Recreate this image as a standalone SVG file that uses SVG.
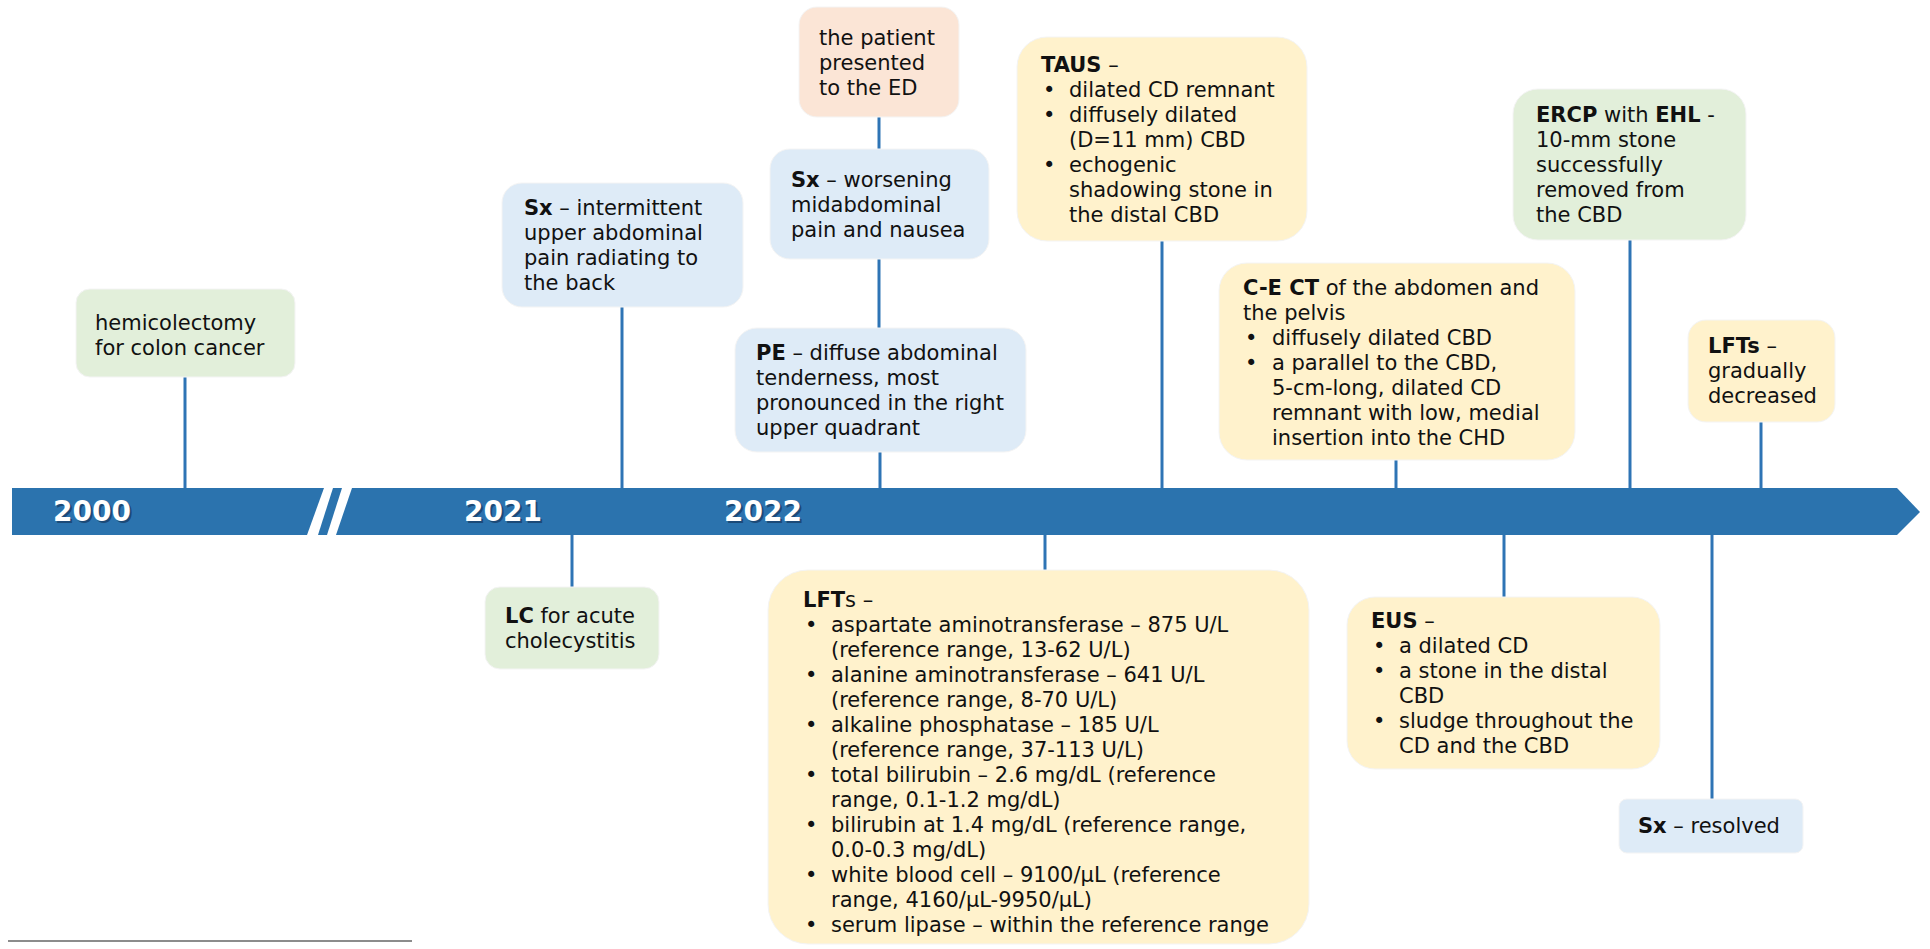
<svg xmlns="http://www.w3.org/2000/svg" width="1930" height="949" viewBox="0 0 1930 949">
<style>
  text { font-family: Verdana, "DejaVu Sans", sans-serif; font-size: 21px; fill: #111; }
  .b { font-weight: bold; }
  .yr { font-size: 28px; font-weight: bold; fill: #ffffff; }
  .yrs { font-size: 28px; font-weight: bold; fill: #1b4a78; }
  .green { fill: #e2efda; }
  .blue { fill: #deebf7; }
  .peach { fill: #fbe5d6; }
  .yellow { fill: #fff2cc; }
  .box { stroke: #f4f4f4; stroke-width: 1; }
  .conn line { stroke: #2e74b5; stroke-width: 3; }
  .band { fill: #2b73ae; }
</style>
<rect x="0" y="0" width="1930" height="949" fill="#ffffff"/>

<!-- timeline band -->
<g id="timeline">
  <polygon class="band" points="12,488 324,488 307,535 12,535"/>
  <polygon class="band" points="333,488 342,488 327,535 318,535"/>
  <polygon class="band" points="352,488 1897,488 1920,512 1897,535 336,535"/>
  <text class="yrs" x="55" y="523">2000</text>
  <text class="yr" x="53" y="521">2000</text>
  <text class="yrs" x="466" y="523">2021</text>
  <text class="yr" x="464" y="521">2021</text>
  <text class="yrs" x="726" y="523">2022</text>
  <text class="yr" x="724" y="521">2022</text>
</g>

<!-- connectors -->
<g id="connectors" class="conn">
  <line x1="185" y1="377" x2="185" y2="488"/>
  <line x1="622" y1="307" x2="622" y2="488"/>
  <line x1="879" y1="117" x2="879" y2="149"/>
  <line x1="879" y1="259" x2="879" y2="328"/>
  <line x1="880" y1="452" x2="880" y2="488"/>
  <line x1="1162" y1="241" x2="1162" y2="488"/>
  <line x1="1630" y1="240" x2="1630" y2="488"/>
  <line x1="1396" y1="460" x2="1396" y2="488"/>
  <line x1="1761" y1="422" x2="1761" y2="488"/>
  <line x1="572" y1="535" x2="572" y2="587"/>
  <line x1="1045" y1="535" x2="1045" y2="570"/>
  <line x1="1504" y1="535" x2="1504" y2="597"/>
  <line x1="1712" y1="535" x2="1712" y2="799"/>
</g>

<g id="hemicolectomy">
  <rect class="box green" x="76" y="289" width="219" height="88" rx="14"/>
  <text x="95" y="330">hemicolectomy</text>
  <text x="95" y="355">for colon cancer</text>
</g>

<g id="sx-intermittent">
  <rect class="box blue" x="502" y="183" width="241" height="124" rx="20"/>
  <text x="524" y="215"><tspan class="b">Sx</tspan> – intermittent</text>
  <text x="524" y="240">upper abdominal</text>
  <text x="524" y="265">pain radiating to</text>
  <text x="524" y="290">the back</text>
</g>

<g id="ed">
  <rect class="box peach" x="799" y="7" width="160" height="110" rx="18"/>
  <text x="819" y="45">the patient</text>
  <text x="819" y="70">presented</text>
  <text x="819" y="95">to the ED</text>
</g>

<g id="sx-worsening">
  <rect class="box blue" x="770" y="149" width="219" height="110" rx="20"/>
  <text x="791" y="187"><tspan class="b">Sx</tspan> – worsening</text>
  <text x="791" y="212">midabdominal</text>
  <text x="791" y="237">pain and nausea</text>
</g>

<g id="pe">
  <rect class="box blue" x="735" y="328" width="291" height="124" rx="22"/>
  <text x="756" y="360"><tspan class="b">PE</tspan> – diffuse abdominal</text>
  <text x="756" y="385">tenderness, most</text>
  <text x="756" y="410">pronounced in the right</text>
  <text x="756" y="435">upper quadrant</text>
</g>

<g id="taus">
  <rect class="box yellow" x="1017" y="37" width="290" height="204" rx="30"/>
  <text x="1041" y="72"><tspan class="b">TAUS</tspan> –</text>
  <text x="1043" y="97">•</text><text x="1069" y="97">dilated CD remnant</text>
  <text x="1043" y="122">•</text><text x="1069" y="122">diffusely dilated</text>
  <text x="1069" y="147">(D=11 mm) CBD</text>
  <text x="1043" y="172">•</text><text x="1069" y="172">echogenic</text>
  <text x="1069" y="197">shadowing stone in</text>
  <text x="1069" y="222">the distal CBD</text>
</g>

<g id="ercp">
  <rect class="box green" x="1513" y="89" width="233" height="151" rx="25"/>
  <text x="1536" y="122"><tspan class="b">ERCP</tspan> with <tspan class="b">EHL</tspan> -</text>
  <text x="1536" y="147">10-mm stone</text>
  <text x="1536" y="172">successfully</text>
  <text x="1536" y="197">removed from</text>
  <text x="1536" y="222">the CBD</text>
</g>

<g id="cect">
  <rect class="box yellow" x="1219" y="263" width="356" height="197" rx="28"/>
  <text x="1243" y="295"><tspan class="b">C-E CT</tspan> of the abdomen and</text>
  <text x="1243" y="320">the pelvis</text>
  <text x="1245" y="345">•</text><text x="1272" y="345">diffusely dilated CBD</text>
  <text x="1245" y="370">•</text><text x="1272" y="370">a parallel to the CBD,</text>
  <text x="1272" y="395">5-cm-long, dilated CD</text>
  <text x="1272" y="420">remnant with low, medial</text>
  <text x="1272" y="445">insertion into the CHD</text>
</g>

<g id="lfts-decreased">
  <rect class="box yellow" x="1688" y="320" width="147" height="102" rx="18"/>
  <text x="1708" y="353"><tspan class="b">LFTs</tspan> –</text>
  <text x="1708" y="378">gradually</text>
  <text x="1708" y="403">decreased</text>
</g>

<g id="lc">
  <rect class="box green" x="485" y="587" width="174" height="82" rx="15"/>
  <text x="505" y="623"><tspan class="b">LC</tspan> for acute</text>
  <text x="505" y="648">cholecystitis</text>
</g>

<g id="lfts">
  <rect class="box yellow" x="768" y="570" width="541" height="374" rx="40"/>
  <text x="803" y="607"><tspan class="b">LFT</tspan>s –</text>
  <text x="805" y="632">•</text><text x="831" y="632">aspartate aminotransferase – 875 U/L</text>
  <text x="831" y="657">(reference range, 13-62 U/L)</text>
  <text x="805" y="682">•</text><text x="831" y="682">alanine aminotransferase – 641 U/L</text>
  <text x="831" y="707">(reference range, 8-70 U/L)</text>
  <text x="805" y="732">•</text><text x="831" y="732">alkaline phosphatase – 185 U/L</text>
  <text x="831" y="757">(reference range, 37-113 U/L)</text>
  <text x="805" y="782">•</text><text x="831" y="782">total bilirubin – 2.6 mg/dL (reference</text>
  <text x="831" y="807">range, 0.1-1.2 mg/dL)</text>
  <text x="805" y="832">•</text><text x="831" y="832">bilirubin at 1.4 mg/dL (reference range,</text>
  <text x="831" y="857">0.0-0.3 mg/dL)</text>
  <text x="805" y="882">•</text><text x="831" y="882">white blood cell – 9100/µL (reference</text>
  <text x="831" y="907">range, 4160/µL-9950/µL)</text>
  <text x="805" y="932">•</text><text x="831" y="932">serum lipase – within the reference range</text>
</g>

<g id="eus">
  <rect class="box yellow" x="1347" y="597" width="313" height="172" rx="28"/>
  <text x="1371" y="628"><tspan class="b">EUS</tspan> –</text>
  <text x="1373" y="653">•</text><text x="1399" y="653">a dilated CD</text>
  <text x="1373" y="678">•</text><text x="1399" y="678">a stone in the distal</text>
  <text x="1399" y="703">CBD</text>
  <text x="1373" y="728">•</text><text x="1399" y="728">sludge throughout the</text>
  <text x="1399" y="753">CD and the CBD</text>
</g>

<g id="sx-resolved">
  <rect class="box blue" x="1619" y="799" width="184" height="54" rx="8"/>
  <text x="1638" y="833"><tspan class="b">Sx</tspan> – resolved</text>
</g>

<line x1="8" y1="941" x2="412" y2="941" stroke="#8c8c8c" stroke-width="2"/>
</svg>
